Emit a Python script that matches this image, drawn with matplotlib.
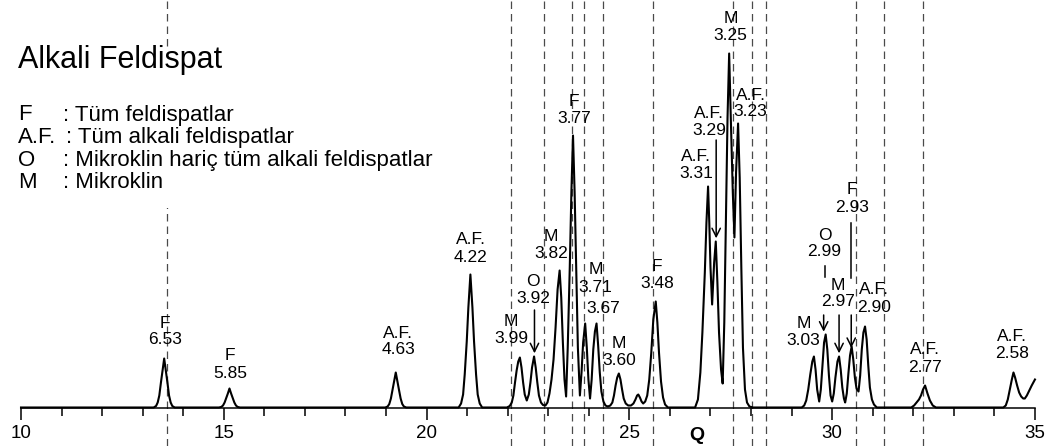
import matplotlib
matplotlib.use("Agg")
import matplotlib.pyplot as plt
from matplotlib.ticker import MultipleLocator
from matplotlib.patches import Rectangle

plt.rcParams['font.family'] = ['Liberation Sans', 'DejaVu Sans']

# --- difraktogram (2 theta, siddet) : resimden okunan noktalar ---
two_theta = [
    10.00,
    13.27, 13.33, 13.37, 13.41, 13.45, 13.49, 13.53, 13.57, 13.61, 13.65, 13.69, 13.73, 13.79,
    14.88, 14.94, 14.98, 15.02, 15.06, 15.10, 15.14, 15.18, 15.22, 15.26, 15.30, 15.34, 15.40,
    18.98, 19.04, 19.08, 19.12, 19.16, 19.20, 19.24, 19.28, 19.32, 19.36, 19.40, 19.44, 19.50,
    20.79, 20.85, 20.90, 20.94, 20.99, 21.03, 21.08, 21.13, 21.17, 21.22, 21.26, 21.31, 21.37,
    21.98, 22.05, 22.10, 22.14, 22.18, 22.22, 22.26, 22.30, 22.34, 22.38, 22.42, 22.47,
    22.52, 22.56, 22.60, 22.65, 22.69, 22.73, 22.77, 22.82, 22.87, 22.93,
    22.98, 23.03, 23.08, 23.13, 23.18, 23.23, 23.28, 23.32, 23.36, 23.40, 23.44,
    23.48, 23.53, 23.57, 23.61, 23.65, 23.69, 23.73, 23.78,
    23.82, 23.86, 23.91, 23.95, 23.99, 24.03, 24.07, 24.11, 24.15, 24.19, 24.23, 24.27,
    24.31, 24.36, 24.41, 24.47, 24.53, 24.58, 24.62, 24.66, 24.70, 24.74, 24.78, 24.82,
    24.86, 24.91, 24.97, 25.04, 25.10, 25.15, 25.19, 25.22, 25.26, 25.30, 25.34,
    25.39, 25.44, 25.49, 25.54, 25.59, 25.65, 25.69, 25.73, 25.78, 25.83, 25.88, 25.95,
    26.62, 26.69, 26.75, 26.80, 26.86, 26.90, 26.94, 26.97, 27.00, 27.04, 27.09, 27.13,
    27.17, 27.21, 27.26, 27.30, 27.34, 27.38, 27.42, 27.46, 27.50, 27.55, 27.59, 27.63,
    27.68, 27.72, 27.76, 27.80, 27.85, 27.90, 27.96, 28.05,
    29.25, 29.31, 29.36, 29.41, 29.46, 29.51, 29.55, 29.59, 29.63, 29.68, 29.72, 29.76,
    29.80, 29.84, 29.88, 29.92, 29.96, 30.00, 30.04, 30.08, 30.13, 30.17, 30.21, 30.25,
    30.29, 30.32, 30.36, 30.40, 30.44, 30.48, 30.52, 30.56, 30.60, 30.65, 30.69, 30.73,
    30.77, 30.81, 30.85, 30.89, 30.93, 30.98, 31.03, 31.10,
    31.95, 32.02, 32.08, 32.14, 32.19, 32.24, 32.29, 32.35, 32.41, 32.48, 32.56,
    34.22, 34.28, 34.33, 34.38, 34.43, 34.47, 34.51, 34.56, 34.61, 34.66, 34.71, 34.75,
    34.80, 34.86, 34.92, 35.00,
]
intensity = [
    0,
    0, 1.5, 5, 12, 25, 37, 49, 37, 25, 12, 5, 1.5, 0,
    0, 0.6, 2, 5, 9.5, 14, 19, 14, 9.5, 5, 2, 0.6, 0,
    0, 1, 3.5, 9, 17.5, 26, 35, 26, 17.5, 9, 3.5, 1, 0,
    0, 4, 13, 33, 66, 100, 133, 100, 66, 33, 13, 4, 0,
    0, 1.5, 5, 12, 25, 37, 46, 50, 40, 25, 13, 7,
    13, 25, 40, 51, 40, 25, 12, 5, 2.5, 2,
    5, 14, 28, 48, 80, 118, 137, 110, 65, 28, 11,
    60, 140, 215, 272, 215, 140, 60, 12,
    35, 65, 84, 60, 28, 9, 28, 58, 76, 84, 62, 35,
    16, 6, 2, 1, 2, 5, 12, 22, 30, 34, 28, 18,
    9, 4, 2, 2, 4, 8, 12, 13, 10, 6, 4,
    6, 12, 28, 55, 88, 106, 85, 55, 26, 10, 3, 0,
    0, 8, 35, 75, 135, 185, 221, 185, 140, 103, 145, 166,
    125, 75, 38, 24, 85, 185, 290, 354, 290, 215, 170, 235,
    284, 230, 140, 60, 18, 5, 1, 0,
    0, 2, 7, 18, 33, 46, 51, 38, 18, 6, 18, 42,
    65, 73, 58, 32, 12, 6, 14, 30, 46, 51, 38, 20,
    9, 5, 14, 34, 52, 61, 48, 30, 19, 16, 32, 58,
    75, 81, 68, 42, 20, 8, 3, 0,
    0, 2, 5, 8, 12, 18, 22, 14, 7, 2, 0,
    0, 2, 8, 18, 28, 35, 30, 22, 15, 11, 9, 9,
    12, 17, 22, 28,
]

# kesikli referans cizgileri (2 theta)
ref_lines = [13.60, 22.07, 22.90, 23.58, 23.88, 24.36, 25.59,
             27.55, 28.02, 28.36, 30.59, 31.28, 32.25]

# pik etiketleri: faz ve d degeri (A)
peak_phase = ['F', 'F', 'A.F.', 'A.F.', 'M', 'O', 'M', 'F', 'M', '', 'M', 'F',
              'A.F.', 'A.F.', 'M', 'A.F.', 'M', 'O', 'M', 'F', 'A.F.', 'A.F.', 'A.F.']
peak_d = ['6.53', '5.85', '4.63', '4.22', '3.99', '3.92', '3.82', '3.77', '3.71', '3.67',
          '3.60', '3.48', '3.31', '3.29', '3.25', '3.23', '3.03', '2.99', '2.97', '2.93',
          '2.90', '2.77', '2.58']

legend_keys = ['F', 'A.F.', 'O', 'M']
legend_texts = [': Tüm feldispatlar', ': Tüm alkali feldispatlar',
                ': Mikroklin hariç tüm alkali feldispatlar', ': Mikroklin']

# etiket yerlesimi (x, ust satir y)
label_pos = [(13.55, 84.5), (15.15, 51.5), (19.30, 74.5), (21.09, 167.5),
             (22.08, 85.8), (22.63, 125.8), (23.07, 170.8), (23.63, 305.8),
             (24.16, 137.5), (24.36, 116.2), (24.74, 64.2), (25.68, 140.8),
             (26.64, 250.8), (26.96, 294.2), (27.50, 389.2), (27.99, 312.5),
             (29.29, 84.2), (29.81, 172.5), (30.15, 122.5), (30.48, 217.5),
             (31.03, 117.5), (32.29, 57.5), (34.43, 70.8)]
arrows = [(22.66, 97.5, 54.2), (27.14, 267.5, 169.2), (29.79, 92.5, 75.8),
          (30.17, 92.5, 54.2), (30.47, 92.5, 59.5)]
plain_marks = [(29.82, 141.5, 130.5), (30.47, 184.5, 129.5)]

fig = plt.figure(figsize=(10.52, 4.46), dpi=100)
ax = fig.add_axes([0, 0, 1, 1])
ax.set_xlim(9.482, 35.42)
ax.set_ylim(-38.5, 407.5)

for x in ref_lines:
    ax.axvline(x, color='#4a4a4a', lw=0.9, ls=(0, (6, 4)), zorder=1)
# baslik ve aciklama arkasi beyaz
ax.add_patch(Rectangle((13.2, 199.5), 0.8, 160, fc='white', ec='none', zorder=1.5))

ax.plot(two_theta, intensity, color='black', lw=1.5, zorder=2,
        solid_joinstyle='round')

for s in ['left', 'right', 'top']:
    ax.spines[s].set_visible(False)
ax.spines['bottom'].set_position(('data', 0))
ax.spines['bottom'].set_bounds(10, 35)
ax.spines['bottom'].set_linewidth(1.1)
ax.xaxis.set_major_locator(MultipleLocator(5))
ax.xaxis.set_minor_locator(MultipleLocator(1))
ax.tick_params(axis='x', which='major', direction='out', length=8.5, width=1.1,
               pad=4, labelsize=13.5)
ax.tick_params(axis='x', which='minor', direction='out', length=6, width=1.1)
ax.set_yticks([])

for ph, d, (x, y) in zip(peak_phase, peak_d, label_pos):
    if ph:
        ax.text(x, y, ph, ha='center', va='center', fontsize=12.5, zorder=3)
    ax.text(x, y - 17, d, ha='center', va='center', fontsize=12.5, zorder=3)

for x, y0, y1 in arrows:
    ax.annotate('', xy=(x, y1), xytext=(x, y0),
                arrowprops=dict(arrowstyle='->,head_length=0.6,head_width=0.3',
                                lw=1.1, color='black', shrinkA=0, shrinkB=0))
for x, y0, y1 in plain_marks:
    ax.plot([x, x], [y0, y1], color='black', lw=1.1)

ax.text(26.67, -27.5, 'Q', ha='center', va='center', fontsize=14, fontweight='bold')

ax.text(9.926, 347.5, 'Alkali Feldispat', ha='left', va='center', fontsize=22)
rows_y = [292.5, 270.2, 246.8, 224.8]
for key, txt, y in zip(legend_keys, legend_texts, rows_y):
    ax.text(9.926, y, key, ha='left', va='center', fontsize=16)
    ax.text(11.04 if key != 'A.F.' else 11.10, y, txt, ha='left', va='center', fontsize=16)

fig.savefig('out.png', dpi=100)
